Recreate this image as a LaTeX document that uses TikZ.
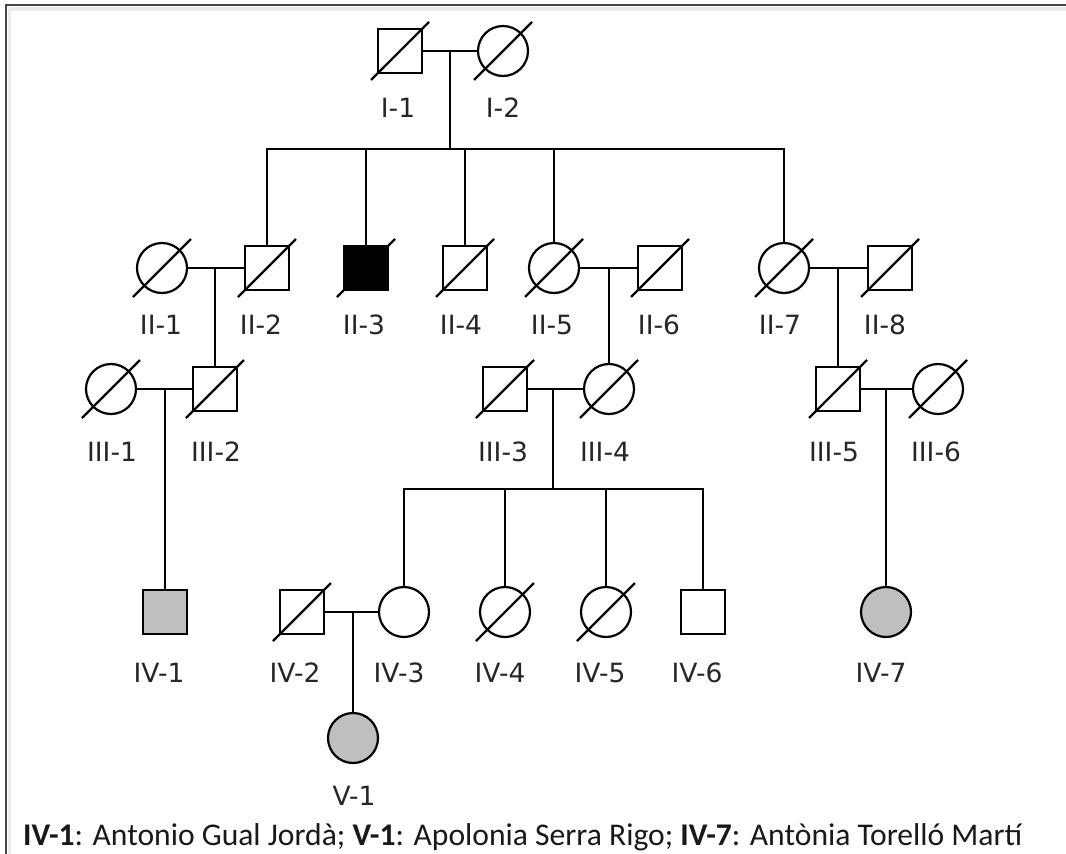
\documentclass[tikz,border=0pt]{standalone}
\usepackage{fontspec}
\setmainfont{DejaVu Sans}
\newfontfamily\capfont{Carlito}
\usetikzlibrary{calc}
\definecolor{affgray}{RGB}{191,191,191}
\definecolor{framegray}{RGB}{70,70,70}
\tikzset{
  ped/.style={draw=black, line width=2.2pt, inner sep=0pt, outer sep=0pt},
  male/.style={ped, rectangle, minimum size=44pt},
  female/.style={ped, circle, minimum size=50pt},
  affected/.style={fill=affgray},
  lab/.style={anchor=base, inner sep=0pt, text=black!85, font=\fontsize{26.5}{28}\selectfont},
  conn/.style={line width=2.2pt},
  slash/.style={line width=2.2pt},
}
\newcommand\deceased[1]{\draw[slash] ($(#1.center)+(-29,29)$) -- ($(#1.center)+(29,-29)$);}
\begin{document}
\begin{tikzpicture}[x=1pt,y=-1pt]
\fill[white] (0,0) rectangle (1066,854);
\useasboundingbox (0,0) rectangle (1066,854);
% frame
\draw[line width=4pt, black!8] (9,9) -- (1066,9);
\draw[line width=3pt, black!8] (9,9) -- (9,854);
\draw[line width=2.2pt, framegray] (6,854) -- (6,5) -- (1066,5);

% Generation I
\node[male] (I1) at (400,51) {};
\node[female] (I2) at (503,51) {};
% Generation II
\node[female] (II1) at (162,268) {};
\node[male] (II2) at (267,268) {};
\node[male, fill=black] (II3) at (366,268) {};
\node[male] (II4) at (465,268) {};
\node[female] (II5) at (554,268) {};
\node[male] (II6) at (660,268) {};
\node[female] (II7) at (784,268) {};
\node[male] (II8) at (890,268) {};
% Generation III
\node[female] (III1) at (111,389) {};
\node[male] (III2) at (215,389) {};
\node[male] (III3) at (505,389) {};
\node[female] (III4) at (609,389) {};
\node[male] (III5) at (838,389) {};
\node[female] (III6) at (938,389) {};
% Generation IV
\node[male, affected] (IV1) at (165,612) {};
\node[male] (IV2) at (302,612) {};
\node[female] (IV3) at (404,612) {};
\node[female] (IV4) at (505,612) {};
\node[female] (IV5) at (606,612) {};
\node[male] (IV6) at (703,612) {};
\node[female, affected] (IV7) at (886,612) {};
% Generation V
\node[female, affected] (V1) at (353,738) {};

% deceased marks
\foreach \p in {I1,I2,II1,II2,II3,II4,II5,II6,II7,II8,III1,III2,III3,III4,III5,III6,IV2,IV4,IV5}{\deceased{\p}}

% connectors generation I -> II
\draw[conn] (I1) -- (I2);
\coordinate (m1) at (450,51);
\coordinate (s1m) at (450,149);
\coordinate (s1l) at (267,149);
\coordinate (s1r) at (784,149);
\draw[conn] (m1) -- (s1m);
\draw[conn] (II2.north) -- (s1l) -- (s1r) -- (II7.north);
\draw[conn] (II3.north) -- (II3.north |- s1l);
\draw[conn] (II4.north) -- (II4.north |- s1l);
\draw[conn] (II5.north) -- (II5.north |- s1l);

% generation II -> III
\draw[conn] (II1) -- (II2);
\coordinate (m2) at (215,268);
\draw[conn] (m2) -- (III2.north);
\draw[conn] (II5) -- (II6);
\coordinate (m3) at (609,268);
\draw[conn] (m3) -- (III4.north);
\draw[conn] (II7) -- (II8);
\coordinate (m4) at (838,268);
\draw[conn] (m4) -- (III5.north);

% generation III -> IV
\draw[conn] (III1) -- (III2);
\coordinate (m5) at (165,389);
\draw[conn] (m5) -- (IV1.north);
\draw[conn] (III3) -- (III4);
\coordinate (m6) at (553,389);
\coordinate (s2m) at (553,489);
\coordinate (s2l) at (404,489);
\coordinate (s2r) at (703,489);
\draw[conn] (m6) -- (s2m);
\draw[conn] (IV3.north) -- (s2l) -- (s2r) -- (IV6.north);
\draw[conn] (IV4.north) -- (IV4.north |- s2l);
\draw[conn] (IV5.north) -- (IV5.north |- s2l);
\draw[conn] (III5) -- (III6);
\coordinate (m7) at (886,389);
\draw[conn] (m7) -- (IV7.north);

% generation IV -> V
\draw[conn] (IV2) -- (IV3);
\coordinate (m8) at (353,612);
\draw[conn] (m8) -- (V1.north);

% labels
\node[lab] (I1l) at (398,117) {I-1};
\node[lab] (I2l) at (503,117) {I-2};
\node[lab] (II1l) at (161,334) {II-1};
\node[lab] (II2l) at (261,334) {II-2};
\node[lab] (II3l) at (364,334) {II-3};
\node[lab] (II4l) at (461,334) {II-4};
\node[lab] (II5l) at (552,334) {II-5};
\node[lab] (II6l) at (659,334) {II-6};
\node[lab] (II7l) at (780,334) {II-7};
\node[lab] (II8l) at (885,334) {II-8};
\node[lab] (III1l) at (112,461) {III-1};
\node[lab] (III2l) at (216,461) {III-2};
\node[lab] (III3l) at (503,461) {III-3};
\node[lab] (III4l) at (605,461) {III-4};
\node[lab] (III5l) at (834,461) {III-5};
\node[lab] (III6l) at (936,461) {III-6};
\node[lab] (IV1l) at (159,682) {IV-1};
\node[lab] (IV2l) at (295,682) {IV-2};
\node[lab] (IV3l) at (399,682) {IV-3};
\node[lab] (IV4l) at (500,682) {IV-4};
\node[lab] (IV5l) at (600,682) {IV-5};
\node[lab] (IV6l) at (697,682) {IV-6};
\node[lab] (IV7l) at (881,682) {IV-7};
\node[lab] (V1l) at (354,805) {V-1};

% caption
\node[anchor=base west, inner sep=0pt, text=black!90, font=\capfont\fontsize{31.6}{34}\selectfont] (cap) at (23,845)
  {\textbf{IV-1}: Antonio Gual Jordà; \textbf{V-1}: Apolonia Serra Rigo; \textbf{IV-7}: Antònia Torelló Martí};
\end{tikzpicture}
\end{document}
